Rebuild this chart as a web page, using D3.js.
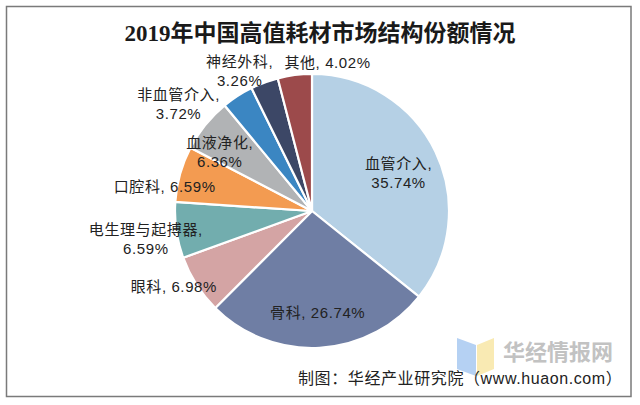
<!DOCTYPE html>
<html><head><meta charset="utf-8">
<script src="https://cdn.jsdelivr.net/npm/d3@7"></script>
<style>html,body{margin:0;padding:0;background:#fff;}svg{display:block;}</style>
</head><body>
<svg id="chart" width="640" height="405"></svg>
<script>
// ---- data ----
const categories = ["血管介入","骨科","眼科","电生理与起搏器","口腔科","血液净化","非血管介入","神经外科","其他"];
const values = [35.74, 26.74, 6.98, 6.59, 6.59, 6.36, 3.72, 3.26, 4.02];
const colors = ["#b5d0e5","#6f7ea4","#d4a4a4","#72adae","#f39b51","#b1b3b5","#3b86c2","#3c4766","#9c4a4b"];
const title = "2019年中国高值耗材市场结构份额情况";
const source = "制图：华经产业研究院（www.huaon.com）";
const watermark = "华经情报网";

// ---- label layout (radius factor, angle nudge in degrees, wrap) ----
const labelLayout = {
  "血管介入":[0.69, 2, true], "骨科":[0.74, 0, false], "眼科":[1.15, 3.8, false],
  "电生理与起搏器":[1.23, -1.4, true], "口腔科":[1.09, -6.3, false], "血液净化":[0.80, -6.3, true],
  "非血管介入":[1.25, -18.3, true], "神经外科":[1.15, -7, true], "其他":[1.09, 13.2, false]
};

const svg = d3.select("#chart");
const cx = 312, cy = 211, R = 137;

svg.append("rect").attr("x",6.5).attr("y",6.5).attr("width",624.5).attr("height",390)
  .attr("fill","#fff").attr("stroke","#7a7a7a").attr("stroke-width",1.5);

svg.append("text").attr("x",320).attr("y",41).attr("text-anchor","middle")
  .attr("font-family","'Liberation Serif','Noto Sans CJK SC',serif").attr("font-weight","bold")
  .attr("font-size",23).attr("fill","#1a1a1a").text(title);

const data = categories.map((c,i)=>({name:c, value:values[i], color:colors[i]}));
const pie = d3.pie().sort(null).value(d=>d.value).startAngle(0).endAngle(2*Math.PI);
const arcs = pie(data);
const arc = d3.arc().innerRadius(0).outerRadius(R);

const g = svg.append("g").attr("transform",`translate(${cx},${cy})`);
g.selectAll("path").data(arcs).join("path")
  .attr("d",arc).attr("fill",d=>d.data.color)
  .attr("stroke","#fff").attr("stroke-width",2.2).attr("stroke-linejoin","round");

// labels
const lg = g.append("g").attr("font-family","'Liberation Sans','Noto Sans CJK SC',sans-serif")
  .attr("font-size",15).attr("letter-spacing",0.6).attr("fill","#222").attr("text-anchor","middle");
arcs.forEach(d=>{
  const [k, nudge, wrap] = labelLayout[d.data.name];
  const a = (d.startAngle + d.endAngle)/2 + nudge*Math.PI/180;
  const x = Math.sin(a)*R*k, y = -Math.cos(a)*R*k;
  const pct = d.data.value.toFixed(2)+"%";
  const lines = wrap ? [d.data.name+",", pct] : [d.data.name+", "+pct];
  const t = lg.append("text").attr("x",x).attr("y",y);
  const lh = 18.8;
  const start = -(lines.length-1)*lh/2 + 5.5;
  lines.forEach((ln,i)=>{
    t.append("tspan").attr("x",x).attr("y",y+start+i*lh).text(ln);
  });
});

// watermark logo
const wm = svg.append("g").attr("opacity",0.85);
wm.append("path").attr("d","M457,338 L476,345 L476,376 L457,369 Z").attr("fill","#a9c9f2");
wm.append("path").attr("d","M477,345 L494,338 L494,369 L477,376 Z").attr("fill","#f8e7a6");
svg.append("text").attr("x",558).attr("y",360).attr("text-anchor","middle")
  .attr("font-family","'Noto Sans CJK SC',sans-serif").attr("font-weight","bold")
  .attr("font-size",22).attr("fill","#c2c2c2").text(watermark);

svg.append("text").attr("x",298).attr("y",384).attr("letter-spacing",0.6)
  .attr("font-family","'Liberation Sans','Noto Sans CJK SC',sans-serif")
  .attr("font-size",16).attr("fill","#222").text(source);
</script>
</body></html>
